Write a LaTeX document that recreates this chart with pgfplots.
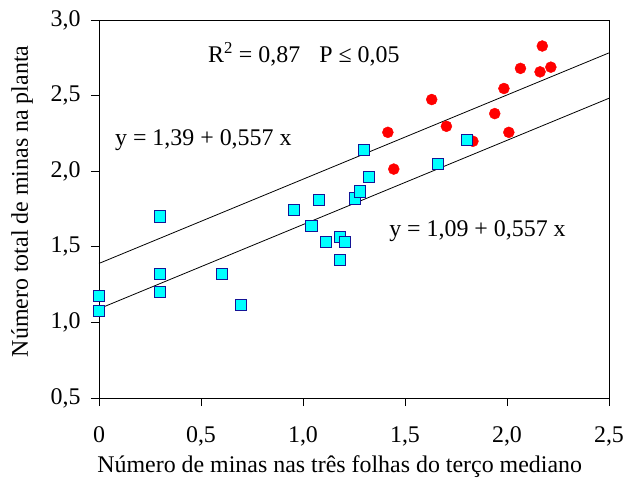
\documentclass[border=0pt]{standalone}
\usepackage{fontspec}
\setmainfont{Liberation Serif}
\usepackage{pgfplots}
\pgfplotsset{compat=1.18}
\definecolor{sqfill}{RGB}{0,255,255}
\definecolor{sqdraw}{RGB}{20,20,150}
\definecolor{dotred}{RGB}{255,0,0}
\begin{document}
\begin{tikzpicture}
\begin{axis}[
  at={(0,0)}, anchor=south west,
  scale only axis, width=510bp, height=378bp,
  xmin=0, xmax=2.5, ymin=0.5, ymax=3,
  xtick={0,0.5,1,1.5,2,2.5},
  xticklabels={0,{0,5},{1,0},{1,5},{2,0},{2,5}},
  ytick={0.5,1,1.5,2,2.5,3},
  yticklabels={{0,5},{1,0},{1,5},{2,0},{2,5},{3,0}},
  tick align=outside, xtick pos=bottom, ytick pos=left,
  major tick length=8bp,
  tick style={black, line width=0.8bp},
  axis line style={black, line width=0.8bp},
  ticklabel style={font=\fontsize{24}{28}\selectfont},
  xticklabel style={yshift=-17bp},
  yticklabel style={xshift=-7bp},
  label style={font=\fontsize{24}{28}\selectfont},
  xlabel={Número de minas nas três folhas do terço mediano},
  ylabel={Número total de minas na planta},
  xlabel style={at={(axis description cs:0.472,0)}, anchor=base, yshift=-74bp},
  ylabel style={at={(axis description cs:0,0.52)}, anchor=base, yshift=71bp},
  clip=false,
]
\addplot[black, line width=0.8bp] coordinates {(0,1.39) (2.5,2.7825)};
\addplot[black, line width=0.8bp] coordinates {(0,1.09) (2.5,2.4825)};
\addplot[only marks, mark=*, mark size=5.5bp, color=dotred, mark options={fill=dotred, draw=dotred}] coordinates {
(1.416,2.257) (1.445,2.014) (1.631,2.474) (1.703,2.297) (1.833,2.198)
(1.940,2.381) (1.985,2.547) (2.009,2.257) (2.066,2.680) (2.162,2.657)
(2.173,2.828) (2.215,2.688)
};
\addplot[only marks, mark=square*, mark size=5.6bp, mark options={fill=sqfill, draw=sqdraw, line width=1bp}] coordinates {
(0,1.174) (0,1.075) (0.300,1.700) (0.300,1.320) (0.300,1.200)
(0.604,1.320) (0.695,1.115) (0.954,1.744) (1.042,1.638) (1.080,1.810)
(1.114,1.530) (1.180,1.565) (1.205,1.530) (1.180,1.413) (1.256,1.820)
(1.278,1.866) (1.300,2.138) (1.323,1.959) (1.661,2.050) (1.805,2.204)
};
\node[anchor=base west, font=\fontsize{24}{28}\selectfont, inner sep=0pt] at (axis cs:0.534,2.716) {R\textsuperscript{2} = 0,87\hspace{0.8em}P ≤ 0,05};
\node[anchor=base west, font=\fontsize{24}{28}\selectfont, inner sep=0pt] at (axis cs:0.078,2.167) {y = 1,39 + 0,557 x};
\node[anchor=base west, font=\fontsize{24}{28}\selectfont, inner sep=0pt] at (axis cs:1.422,1.565) {y = 1,09 + 0,557 x};
\end{axis}
\pgfresetboundingbox
\path[use as bounding box] (-99bp,-80bp) rectangle (527bp,398bp);
\end{tikzpicture}
\end{document}
